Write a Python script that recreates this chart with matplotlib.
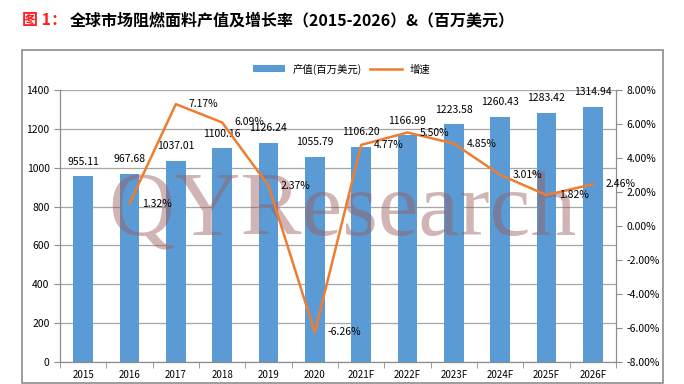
import matplotlib.pyplot as plt
import matplotlib.patches as mpatches
import numpy as np

plt.rcParams['font.family'] = ['Noto Sans CJK SC', 'DejaVu Sans']

years = ['2015', '2016', '2017', '2018', '2019', '2020',
         '2021F', '2022F', '2023F', '2024F', '2025F', '2026F']
output = [955.11, 967.68, 1037.01, 1100.16, 1126.24, 1055.79,
          1106.20, 1166.99, 1223.58, 1260.43, 1283.42, 1314.94]
growth = [None, 1.32, 7.17, 6.09, 2.37, -6.26,
          4.77, 5.50, 4.85, 3.01, 1.82, 2.46]

bar_color = '#5B9BD5'
line_color = '#ED7D31'
grid_color = '#A6A6A6'

fig = plt.figure(figsize=(6.84, 3.84), dpi=100)

# outer frame
fig.patches.append(mpatches.Rectangle((22 / 684, 1 / 384), 641 / 684, 333 / 384,
                                      transform=fig.transFigure, fill=False,
                                      edgecolor='#8C8C8C', linewidth=1.2))

fig.text(22 / 684, 1 - 20 / 384, '图 1：', color='#FF2020', fontsize=11.5,
         fontweight='bold', va='center')
fig.text(70 / 684, 1 - 20 / 384, '全球市场阻燃面料产值及增长率（2015-2026）&（百万美元）',
         color='black', fontsize=11.5, fontweight='bold', va='center')

ax = fig.add_axes([60 / 684, 1 - 362 / 384, 556 / 684, 272 / 384])
ax2 = ax.twinx()

x = np.arange(len(years))
bars = ax.bar(x, output, width=0.42, color=bar_color, zorder=2, label='产值(百万美元)')
for xi, v in zip(x, output):
    ax.annotate(f'{v:.2f}', (xi, v), xytext=(0, 7), textcoords='offset points',
                ha='center', va='bottom', fontsize=7.5, zorder=5)

ax.set_ylim(0, 1400)
ax.set_yticks(np.arange(0, 1401, 200))
ax.set_xlim(-0.5, len(years) - 0.5)
ax.set_xticks(x)
ax.set_xticklabels(years)
ax.set_xticks(np.arange(-0.5, len(years), 1), minor=True)
ax.tick_params(axis='x', which='major', length=0, labelsize=7, pad=6)
ax.tick_params(axis='x', which='minor', length=4, color='#8C8C8C', direction='out')
ax.tick_params(axis='y', labelsize=7.5, length=4, color='#8C8C8C')
ax.grid(axis='y', color=grid_color, linewidth=0.9, zorder=0)
ax.set_axisbelow(True)

# watermark: above bars, below the growth line
ax.text(342 / 684, 1 - 213 / 384, 'QYResearch', family='Liberation Serif',
        fontsize=66, color='#9B5A5A', alpha=0.45, ha='center', va='center',
        transform=fig.transFigure, zorder=3)

gx = [xi for xi, g in zip(x, growth) if g is not None]
gy = [g for g in growth if g is not None]
ax2.plot(gx, gy, color=line_color, linewidth=1.8, zorder=4, label='增速')
for xi, g in zip(gx, gy):
    ax2.annotate(f'{g:.2f}%', (xi, g), xytext=(9, 0), textcoords='offset points',
                 ha='left', va='center', fontsize=7.5, zorder=6)
ax2.set_ylim(-8, 8)
ax2.set_yticks(np.arange(-8, 8.1, 2))
ax2.set_yticklabels([f'{t:.2f}%' for t in np.arange(-8, 8.1, 2)])
ax2.tick_params(axis='y', labelsize=7.5, length=4, color='#8C8C8C')

for a in (ax, ax2):
    a.spines['top'].set_visible(False)
    for s in ('left', 'right', 'bottom'):
        a.spines[s].set_color('#8C8C8C')

h1, l1 = ax.get_legend_handles_labels()
h2, l2 = ax2.get_legend_handles_labels()
fig.legend(h1 + h2, l1 + l2, loc='center', bbox_to_anchor=(342 / 684, 1 - 69 / 384),
           ncol=2, frameon=False, fontsize=7.5, handlelength=3, columnspacing=0.8)

fig.savefig('out.png', dpi=100)
